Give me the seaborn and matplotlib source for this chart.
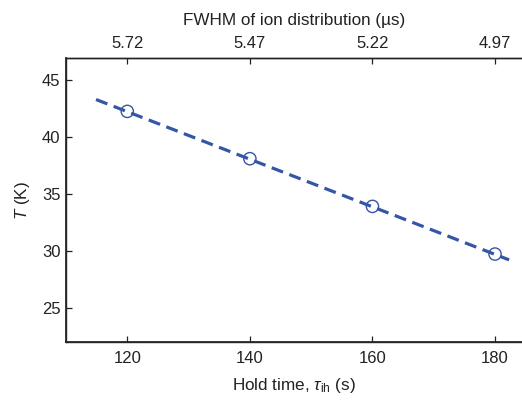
import matplotlib
matplotlib.use("Agg")
import matplotlib.pyplot as plt
import seaborn as sns
import pandas as pd

# data
hold_time = [120, 140, 160, 180]
temperature = [42.22, 38.07, 33.89, 29.71]
fit_x = [114.9, 182.3]
fit_y = [43.26, 29.20]
top_tick_labels = ["5.72", "5.47", "5.22", "4.97"]

sns.set_theme(style="ticks")
plt.rcParams['font.family'] = ['Liberation Sans', 'DejaVu Sans']
plt.rcParams['mathtext.fontset'] = 'custom'
plt.rcParams['mathtext.rm'] = 'Liberation Sans'
plt.rcParams['mathtext.it'] = 'Liberation Sans:italic'
plt.rcParams['mathtext.sf'] = 'Liberation Sans'

blue = '#3556a6'
txt = '#222222'
fig = plt.figure(figsize=(5.22, 4.01), dpi=100)
ax = fig.add_axes([66/522, (401-342)/401, (522-66)/522, (342-58)/401])

df_fit = pd.DataFrame({"x": fit_x, "y": fit_y})
df_pts = pd.DataFrame({"x": hold_time, "y": temperature})
sns.lineplot(data=df_fit, x="x", y="y", ax=ax, color=blue, linewidth=2.3,
             dashes=False)
ax.lines[-1].set_dashes((3.8, 2.1))
sns.scatterplot(data=df_pts, x="x", y="y", ax=ax, marker='o', s=78,
                facecolors='none', edgecolor=blue, linewidth=1.0, zorder=3)

ax.set_xlim(110, 184.4)
ax.set_ylim(22, 46.9)
ax.set_xticks(hold_time)
ax.set_yticks([25, 30, 35, 40, 45])
ax.set_xlabel(r"Hold time, $\tau_{\mathrm{ih}}$ (s)", fontsize=12.3, color=txt, labelpad=7)
ax.set_ylabel(r"$T$ (K)", fontsize=12.3, color=txt, labelpad=7)
ax.tick_params(direction='in', length=4, width=0.9, labelsize=12, colors=txt)
ax.tick_params(axis='x', pad=6.5)
ax.tick_params(axis='y', pad=4)
ax.spines['right'].set_visible(False)
for s in ['left', 'bottom', 'top']:
    ax.spines[s].set_linewidth(1.0)
    ax.spines[s].set_color(txt)

ax2 = ax.twiny()
ax2.set_xlim(ax.get_xlim())
ax2.set_xticks(hold_time)
ax2.set_xticklabels(top_tick_labels)
ax2.tick_params(direction='in', length=4, width=0.9, labelsize=12, colors=txt, pad=5)
ax2.set_xlabel("FWHM of ion distribution (µs)", fontsize=12.3, color=txt, labelpad=8)
ax2.spines['right'].set_visible(False)
ax2.spines['top'].set_linewidth(1.0)
ax2.spines['top'].set_color(txt)

fig.savefig("out.png", dpi=100)
